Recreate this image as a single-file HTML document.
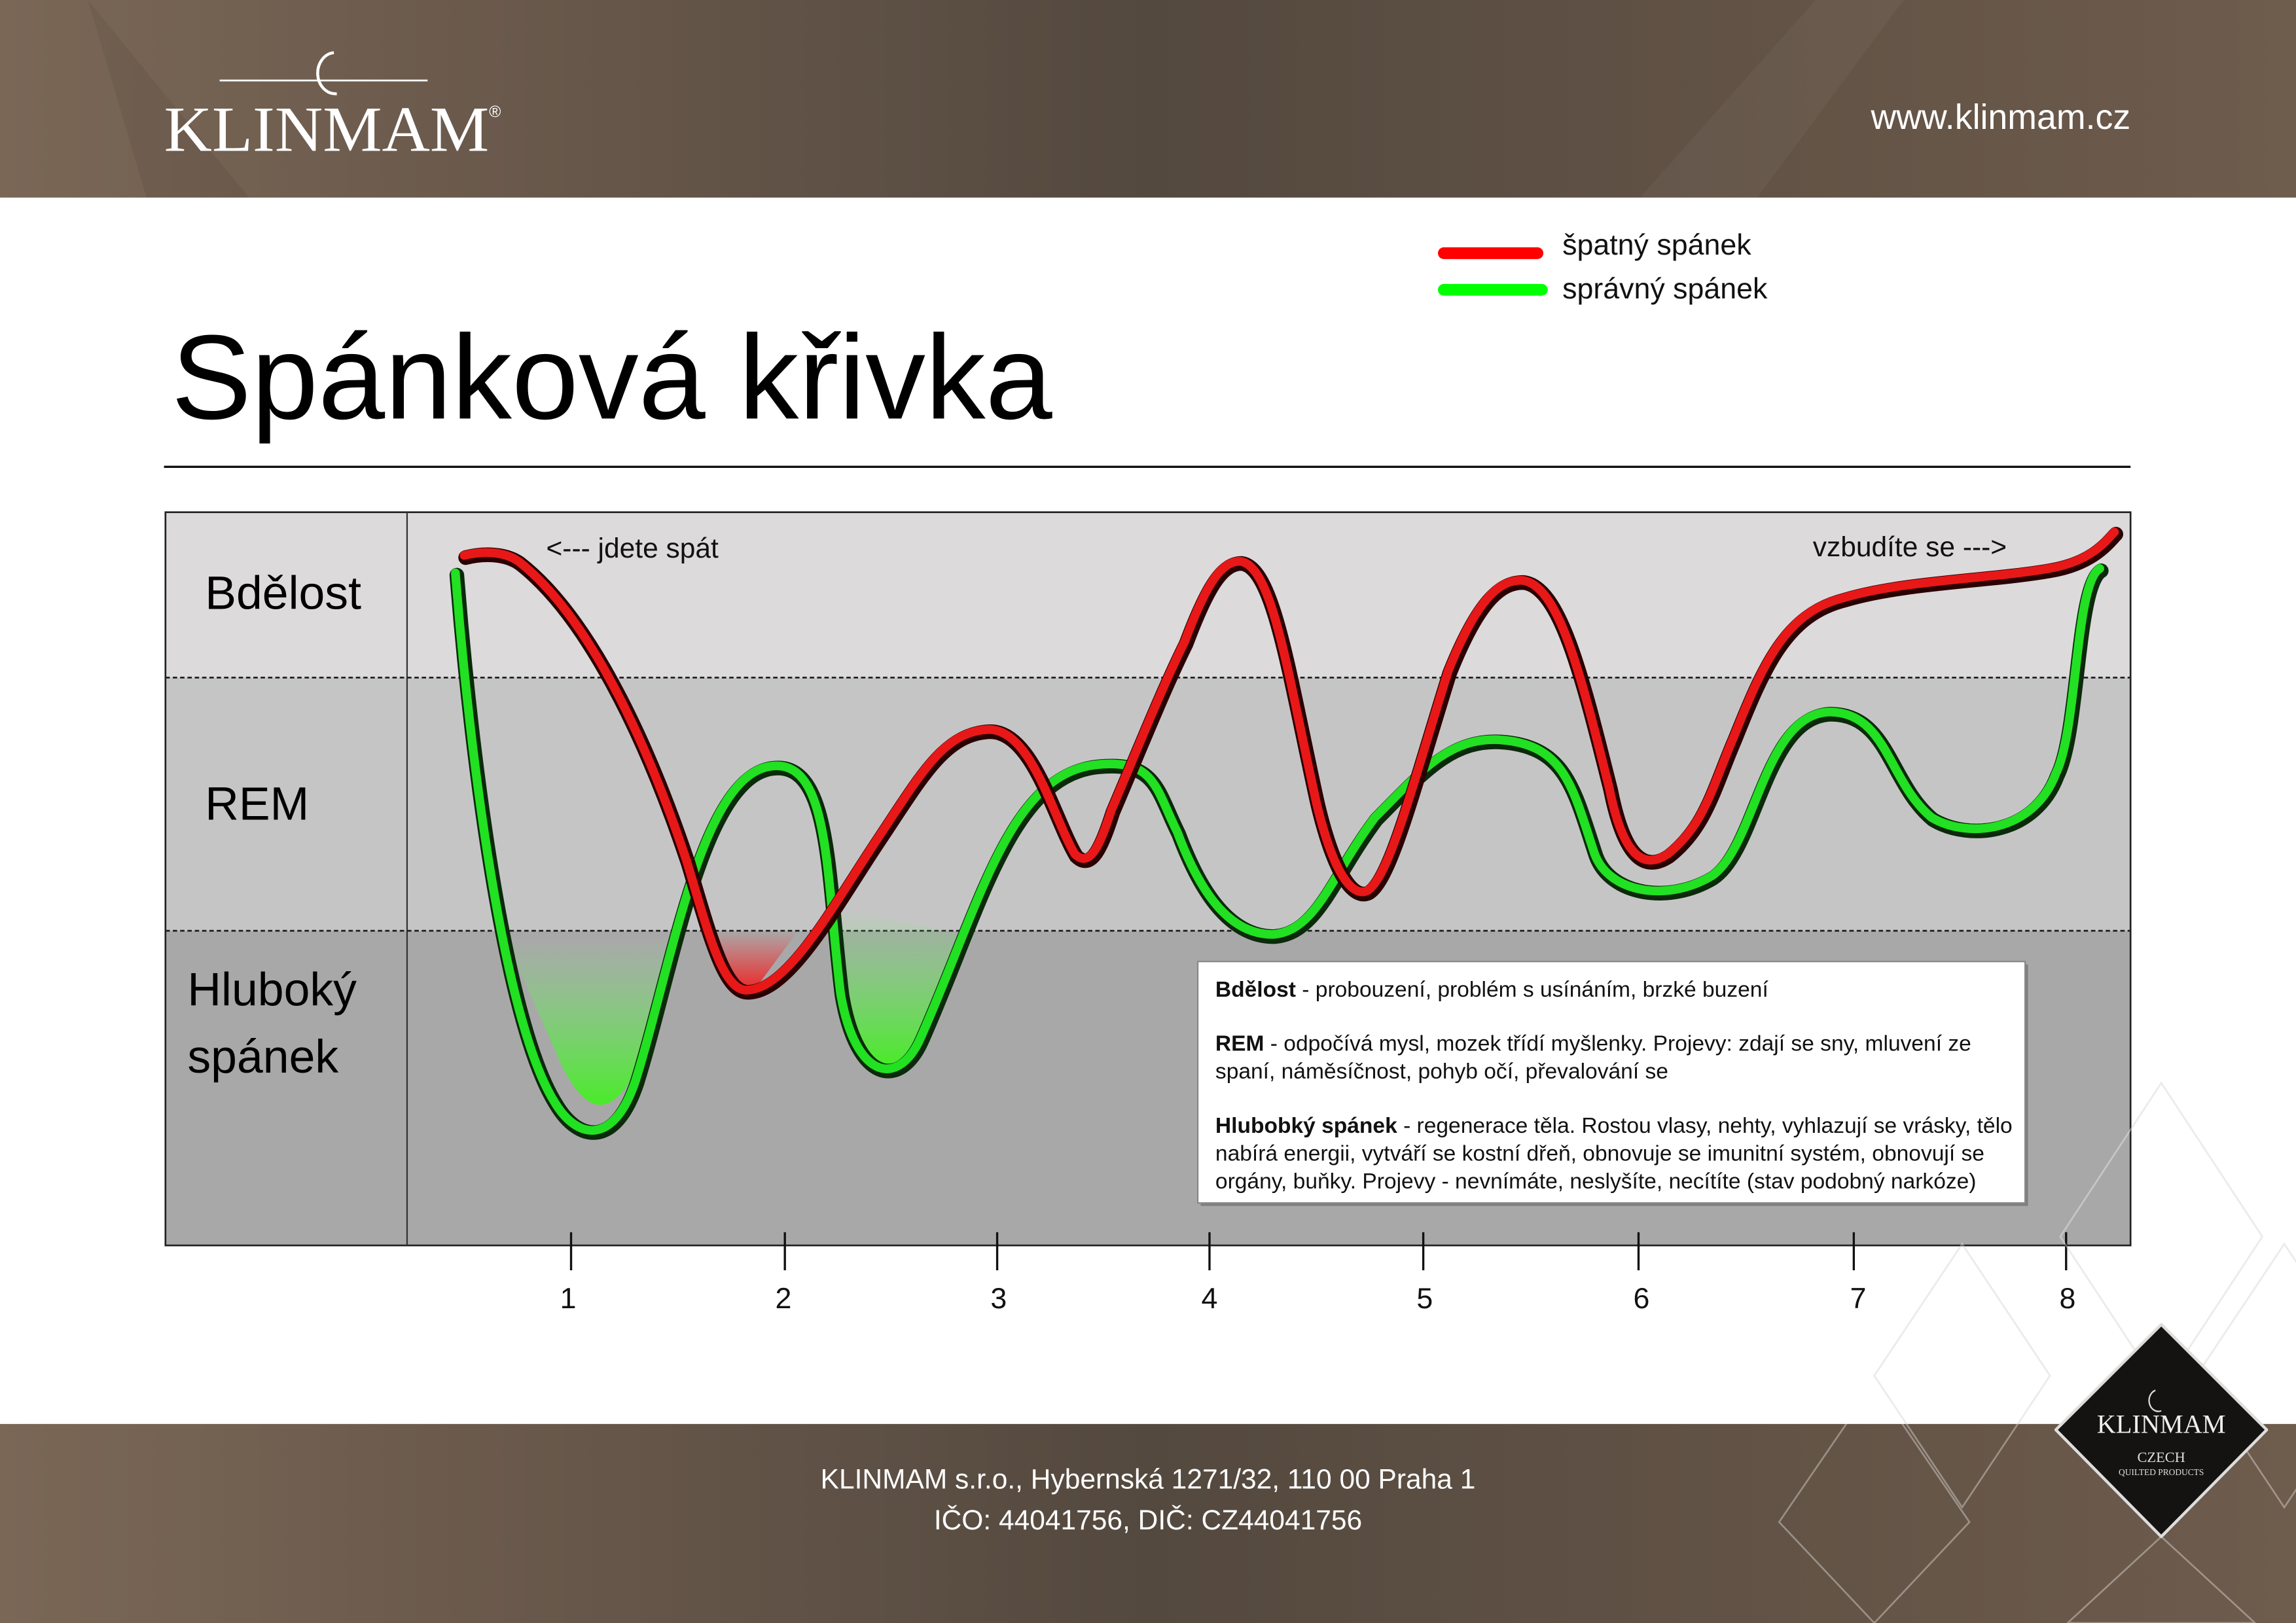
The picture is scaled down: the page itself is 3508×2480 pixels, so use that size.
<!DOCTYPE html>
<html><head><meta charset="utf-8"><style>
html,body{margin:0;padding:0;background:#fff}
svg{display:block}
text{font-family:"Liberation Sans","DejaVu Sans",sans-serif}
</style></head><body>
<svg width="3508" height="2480" viewBox="0 0 1568 1109" preserveAspectRatio="none" xmlns="http://www.w3.org/2000/svg">
<defs>
<linearGradient id="hdr" x1="0" y1="0" x2="1" y2="0">
<stop offset="0" stop-color="#7a6756"/><stop offset="0.25" stop-color="#67574a"/><stop offset="0.5" stop-color="#54493f"/><stop offset="0.75" stop-color="#615245"/><stop offset="1" stop-color="#6e5c4d"/>
</linearGradient>
<linearGradient id="gfill" x1="0" y1="0" x2="0" y2="1">
<stop offset="0" stop-color="#6ef06e" stop-opacity="0"/><stop offset="1" stop-color="#44ee22" stop-opacity="0.95"/>
</linearGradient>
<linearGradient id="rfill" x1="0" y1="0" x2="0" y2="1">
<stop offset="0" stop-color="#ff2020" stop-opacity="0"/><stop offset="1" stop-color="#ee2020" stop-opacity="0.9"/>
</linearGradient>
</defs>
<rect width="1568" height="1109" fill="#fff"/>
<g fill="none" stroke="#ccc" stroke-opacity="0.6" stroke-width="1.2">
<path d="M1476 740 L1545 845 L1476 950 L1407 845 Z"/>
<path d="M1340 850 L1400 940 L1340 1030 L1280 940 Z"/>
<path d="M1560 850 L1620 940 L1560 1030 L1500 940 Z"/>
</g>
<!-- header -->
<rect x="0" y="0" width="1568" height="135" fill="url(#hdr)"/>
<polygon points="60,0 170,135 100,135" fill="#000" opacity="0.06"/>
<polygon points="1240,0 1300,0 1200,135 1120,135" fill="#fff" opacity="0.04"/>
<text x="112" y="103" style="font-family:'Liberation Serif',serif" font-size="44" fill="#fff" textLength="222" lengthAdjust="spacingAndGlyphs">KLINMAM</text>
<text x="334" y="80" font-size="11" fill="#fff">®</text>
<line x1="150" y1="55" x2="292" y2="55" stroke="#fff" stroke-width="1.2"/>
<path d="M228 36 A12 14 0 1 0 230 64" fill="none" stroke="#fff" stroke-width="2"/>
<text x="1455" y="88" font-size="24" fill="#fff" text-anchor="end">www.klinmam.cz</text>
<!-- legend -->
<line x1="986" y1="173" x2="1050" y2="173" stroke="#f00" stroke-width="8" stroke-linecap="round"/>
<line x1="986" y1="198" x2="1053" y2="198" stroke="#0f0" stroke-width="8" stroke-linecap="round"/>
<text x="1067" y="174" font-size="20" fill="#111">špatný spánek</text>
<text x="1067" y="204" font-size="20" fill="#111">správný spánek</text>
<text x="117" y="286" font-size="82" fill="#000">Spánková křivka</text>
<line x1="112" y1="319" x2="1455" y2="319" stroke="#111" stroke-width="1.5"/>
<!-- chart -->
<rect x="113" y="350" width="1342" height="113" fill="#dcdadb"/>
<rect x="113" y="463" width="1342" height="173" fill="#c6c5c6"/>
<rect x="113" y="636" width="1342" height="215" fill="#a9a8a9"/>
<rect x="113" y="350" width="1342" height="501" fill="none" stroke="#222" stroke-width="1.2"/>
<line x1="278" y1="350" x2="278" y2="851" stroke="#333" stroke-width="1"/>
<line x1="113" y1="463" x2="1455" y2="463" stroke="#222" stroke-width="1.2" stroke-dasharray="3,2"/>
<line x1="113" y1="636" x2="1455" y2="636" stroke="#222" stroke-width="1.2" stroke-dasharray="3,2"/>
<text x="140" y="416" font-size="32" fill="#000">Bdělost</text>
<text x="140" y="560" font-size="32" fill="#000">REM</text>
<text x="128" y="687" font-size="32" fill="#000">Hluboký</text>
<text x="128" y="733" font-size="32" fill="#000">spánek</text>
<text x="373" y="381" font-size="19" fill="#111">&lt;--- jdete spát</text>
<text x="1238" y="380" font-size="19" fill="#111">vzbudíte se ---&gt;</text>
<!-- glow fills -->
<path d="M345 640 Q410 640 465 640 L440 720 Q410 790 380 720 Z" fill="url(#gfill)"/>
<path d="M572 620 L665 640 L630 710 Q600 750 580 700 Z" fill="url(#gfill)"/>
<path d="M490 636 L545 636 L520 670 Q508 682 495 665 Z" fill="url(#rfill)"/>
<g fill="none" stroke-linecap="round" stroke-linejoin="round">
<path d="M312 393 C322 520 345 700 380 755 C395 780 420 785 435 740 C460 660 480 530 528 525 C568 520 565 600 575 680 C585 740 615 745 630 710 C670 620 690 530 750 524 C790 520 790 540 805 570 C820 610 840 640 870 640 C900 638 910 600 940 560 C970 530 990 505 1025 507 C1070 510 1075 540 1090 585 C1100 612 1140 618 1170 600 C1200 580 1205 490 1250 488 C1290 488 1290 535 1320 560 C1345 575 1390 570 1405 530 C1420 500 1418 400 1435 390" stroke="#0a2a0a" stroke-width="10"/>
<path d="M312 393 C322 520 345 700 380 755 C395 780 420 785 435 740 C460 660 480 530 528 525 C568 520 565 600 575 680 C585 740 615 745 630 710 C670 620 690 530 750 524 C790 520 790 540 805 570 C820 610 840 640 870 640 C900 638 910 600 940 560 C970 530 990 505 1025 507 C1070 510 1075 540 1090 585 C1100 612 1140 618 1170 600 C1200 580 1205 490 1250 488 C1290 488 1290 535 1320 560 C1345 575 1390 570 1405 530 C1420 500 1418 400 1435 390" stroke="#22e022" stroke-width="6" transform="translate(-1,-1.5)"/>
<path d="M318 381 C330 378 345 378 355 385 C400 420 440 500 470 590 C485 640 495 680 512 678 C540 676 570 620 600 575 C630 530 645 502 675 500 C705 498 720 560 735 585 C745 595 752 580 760 555 C775 520 795 470 810 440 C825 400 835 385 848 385 C870 388 880 460 900 550 C912 600 925 615 935 610 C950 600 965 540 990 460 C1010 410 1025 398 1040 398 C1065 400 1080 460 1100 540 C1110 590 1125 595 1140 585 C1165 565 1170 540 1185 505 C1205 455 1220 420 1260 410 C1300 398 1360 397 1400 390 C1430 385 1440 370 1445 365" stroke="#2a0000" stroke-width="10"/>
<path d="M318 381 C330 378 345 378 355 385 C400 420 440 500 470 590 C485 640 495 680 512 678 C540 676 570 620 600 575 C630 530 645 502 675 500 C705 498 720 560 735 585 C745 595 752 580 760 555 C775 520 795 470 810 440 C825 400 835 385 848 385 C870 388 880 460 900 550 C912 600 925 615 935 610 C950 600 965 540 990 460 C1010 410 1025 398 1040 398 C1065 400 1080 460 1100 540 C1110 590 1125 595 1140 585 C1165 565 1170 540 1185 505 C1205 455 1220 420 1260 410 C1300 398 1360 397 1400 390 C1430 385 1440 370 1445 365" stroke="#e81818" stroke-width="6" transform="translate(-1,-1.5)"/>
</g>
<!-- info box -->
<rect x="820" y="659" width="565" height="165" fill="#555" opacity="0.5"/>
<rect x="818" y="657" width="565" height="165" fill="#fff" stroke="#888" stroke-width="1"/>
<g font-size="15" fill="#111">
<text x="830" y="681"><tspan font-weight="bold">Bdělost</tspan> - probouzení, problém s usínáním, brzké buzení</text>
<text x="830" y="718"><tspan font-weight="bold">REM</tspan> - odpočívá mysl, mozek třídí myšlenky. Projevy: zdají se sny, mluvení ze</text>
<text x="830" y="737">spaní, náměsíčnost, pohyb očí, převalování se</text>
<text x="830" y="774"><tspan font-weight="bold">Hlubobký spánek</tspan> - regenerace těla. Rostou vlasy, nehty, vyhlazují se vrásky, tělo</text>
<text x="830" y="793">nabírá energii, vytváří se kostní dřeň, obnovuje se imunitní systém, obnovují se</text>
<text x="830" y="812">orgány, buňky. Projevy - nevnímáte, neslyšíte, necítíte (stav podobný narkóze)</text>
</g>
<g stroke="#111" stroke-width="1.5">
<line x1="390" y1="842" x2="390" y2="868"/><line x1="536" y1="842" x2="536" y2="868"/><line x1="681" y1="842" x2="681" y2="868"/><line x1="826" y1="842" x2="826" y2="868"/><line x1="972" y1="842" x2="972" y2="868"/><line x1="1119" y1="842" x2="1119" y2="868"/><line x1="1266" y1="842" x2="1266" y2="868"/><line x1="1411" y1="842" x2="1411" y2="868"/>
</g>
<g font-size="20" fill="#111" text-anchor="middle">
<text x="388" y="894">1</text><text x="535" y="894">2</text><text x="682" y="894">3</text><text x="826" y="894">4</text><text x="973" y="894">5</text><text x="1121" y="894">6</text><text x="1269" y="894">7</text><text x="1412" y="894">8</text>
</g>
<!-- footer -->
<rect x="0" y="973" width="1568" height="136" fill="url(#hdr)"/>
<g fill="none" stroke="#fff" stroke-opacity="0.35" stroke-width="1.2">
<path d="M1476 740 L1545 845 L1476 950 L1407 845 Z"/>
<path d="M1340 850 L1400 940 L1340 1030 L1280 940 Z"/>
<path d="M1560 850 L1620 940 L1560 1030 L1500 940 Z"/>
<path d="M1280 945 L1345 1040 L1280 1109 L1215 1040 Z"/>
<path d="M1476 1050 L1540 1109 L1412 1109 Z"/>
</g>
<text x="784" y="1017" font-size="19" fill="#fff" text-anchor="middle">KLINMAM s.r.o., Hybernská 1271/32, 110 00 Praha 1</text>
<text x="784" y="1045" font-size="19" fill="#fff" text-anchor="middle">IČO: 44041756, DIČ: CZ44041756</text>
<path d="M1476 905 L1548 977 L1476 1050 L1404 977 Z" fill="#151312" stroke="#ddd" stroke-width="2" stroke-linejoin="round"/>
<text x="1476" y="979" style="font-family:'Liberation Serif',serif" font-size="18" fill="#eee" text-anchor="middle">KLINMAM</text>
<text x="1476" y="999" style="font-family:'Liberation Serif',serif" font-size="10" fill="#ddd" text-anchor="middle">CZECH</text>
<text x="1476" y="1008" style="font-family:'Liberation Serif',serif" font-size="6" fill="#ddd" text-anchor="middle">QUILTED PRODUCTS</text>
<path d="M1472 950 A6 7 0 1 0 1476 964" fill="none" stroke="#ddd" stroke-width="1"/>
</svg>
</body></html>
